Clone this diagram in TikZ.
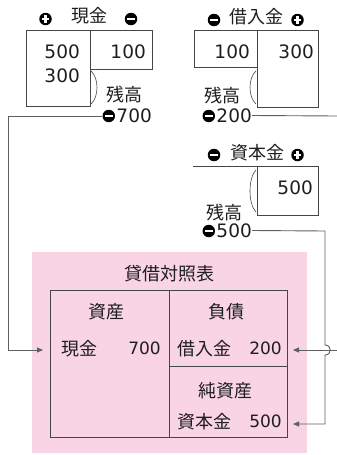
\documentclass[tikz,border=0pt]{standalone}
\usepackage{fontspec}
\setmainfont{Noto Sans CJK JP}
\newfontfamily\numfont{DejaVu Sans}
\usetikzlibrary{arrows.meta}
\definecolor{bspink}{RGB}{248,212,229}
\definecolor{ink}{RGB}{30,30,30}
\definecolor{boxline}{RGB}{70,70,70}
\definecolor{connline}{RGB}{95,95,95}
\tikzset{
  acct/.style={draw=boxline,line width=0.8pt},
  txt/.style={inner sep=0pt,text=ink,font=\fontsize{18}{20}\selectfont},
  num/.style={inner sep=0pt,text=ink,font=\numfont\fontsize{18.5}{20}\selectfont},
  bsnum/.style={inner sep=0pt,text=ink,font=\numfont\fontsize{17}{19}\selectfont},
  conn/.style={draw=connline,line width=0.9pt},
  tip/.style={-{Triangle[length=6pt,width=5pt]}},
  icon/.style={circle,fill=black,minimum size=12.5pt,inner sep=0pt},
  minusc/.style={icon,path picture={\fill[white] ([xshift=-3.8pt,yshift=-1.2pt]path picture bounding box.center) rectangle ([xshift=3.8pt,yshift=1.2pt]path picture bounding box.center);}},
  plusc/.style={icon,path picture={\fill[white] ([xshift=-3.8pt,yshift=-1.2pt]path picture bounding box.center) rectangle ([xshift=3.8pt,yshift=1.2pt]path picture bounding box.center);
      \fill[white] ([xshift=-1.2pt,yshift=-3.8pt]path picture bounding box.center) rectangle ([xshift=1.2pt,yshift=3.8pt]path picture bounding box.center);}},
  cell/.style={draw=boxline,line width=0.8pt,inner sep=0pt},
}
\begin{document}
\begin{tikzpicture}[x=1pt,y=-1pt]
\useasboundingbox (0,0) rectangle (337,455);

% ---------- 現金 ----------
\node[txt] (tcash) at (89.5,16) {現金};
\node[plusc] (pcash) at (45.5,19) {};
\node[minusc] (mcash) at (131,19) {};
\draw[acct] (26,30) rectangle (90,106);
\draw[acct] (90,30) rectangle (152,69);
\node[num,anchor=east] (c500) at (80,52) {500};
\node[num,anchor=east] (c100) at (146,52) {100};
\node[num,anchor=east] (c300) at (80,76) {300};
\draw[acct,line width=0.6pt] (91,71) .. controls (99,78) and (99,97) .. (91,104);
\node[txt] (zcash) at (124.5,94.5) {残高};
\node[num,anchor=east] (v700) at (152,115.5) {700};
\node[minusc] (i700) at ([xshift=-7.5pt,yshift=-0.5pt]v700.west) {};

% ---------- 借入金 ----------
\node[txt] (tloan) at (256,16.5) {借入金};
\node[minusc] (mloan) at (214,20) {};
\node[plusc] (ploan) at (297.5,20) {};
\draw[acct] (194,30) rectangle (257,67);
\draw[acct] (257,30) rectangle (318,107);
\node[num,anchor=east] (l100) at (250,52) {100};
\node[num,anchor=east] (l300) at (314,52) {300};
\draw[acct,line width=0.6pt] (256,71) .. controls (248,78) and (248,97) .. (256,104);
\node[txt] (zloan) at (222.5,96) {残高};
\node[num,anchor=east] (v200) at (252,115.5) {200};
\node[minusc] (i200) at ([xshift=-7.5pt,yshift=-0.5pt]v200.west) {};

% ---------- 資本金 ----------
\node[txt] (tcap) at (257.5,152.5) {資本金};
\node[minusc] (mcap) at (214,155) {};
\node[plusc] (pcap) at (297.5,155) {};
\draw[acct] (193,166) -- (257,166);
\draw[acct] (257,166) rectangle (318,215);
\node[num,anchor=east] (k500) at (313,188) {500};
\draw[acct,line width=0.6pt] (256,170) .. controls (248,178) and (248,204) .. (256,212);
\node[txt] (zcap) at (224,212.5) {残高};
\node[num,anchor=east] (v500) at (252,230.5) {500};
\node[minusc] (i500) at ([xshift=-7.5pt,yshift=-0.5pt]v500.west) {};

% ---------- 貸借対照表 ----------
\fill[bspink] (32,252) rectangle (307,453);
\node[txt] (bstitle) at (169,273.5) {貸借対照表};
\node[cell,minimum width=119pt,minimum height=147pt,anchor=north west] (asset) at (50,290) {};
\node[cell,minimum width=118pt,minimum height=76pt,anchor=north west] (liab) at (169,290) {};
\node[cell,minimum width=118pt,minimum height=71pt,anchor=north west] (equity) at (169,366) {};
\node[txt] (hasset) at (106,312) {資産};
\node[txt] (hliab) at (226.5,312) {負債};
\node[txt] (hequity) at (225.5,390.5) {純資産};
\node[txt] (rcash) at (79.5,348.5) {現金};
\node[bsnum,anchor=east] (rcashv) at (161,348.5) {700};
\node[txt,anchor=west] (rloan) at (177,348.5) {借入金};
\node[bsnum,anchor=east] (rloanv) at (282,348.5) {200};
\node[txt,anchor=west] (rcap) at (177,421.5) {資本金};
\node[bsnum,anchor=east] (rcapv) at (282,421.5) {500};

% ---------- connectors ----------
\coordinate (aasset) at (43,350);
\coordinate (aliab) at (293,350);
\coordinate (aequity) at (293,424);
\coordinate (loanout) at (337,116);
\coordinate (loanin) at (337,350);

\draw[conn,tip] (i700.west) -| (8,350) -- (aasset);
\draw[conn] (v200.east) -- (loanout);
\draw[conn,tip] (loanin) -- (aliab);
\draw[conn,tip] (v500.east) -- (325,231) -- (325,345)
   .. controls (332,345) and (332,355) .. (325,355) -- (325,424) -- (aequity);
\end{tikzpicture}
\end{document}
